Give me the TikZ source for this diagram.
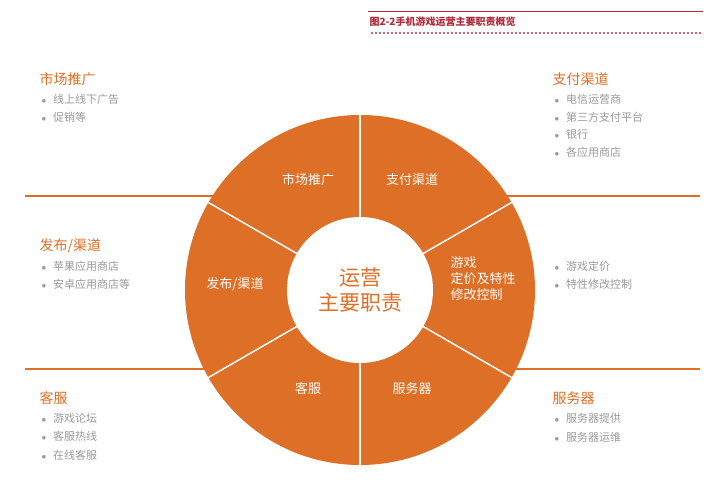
\documentclass[tikz,border=0pt]{standalone}
\usepackage{fontspec}
\newfontfamily\cjk{Noto Sans CJK SC}
\begin{document}
\begin{tikzpicture}[x=1pt,y=-1pt,
  orng/.style={fill=myor},
  sect/.style={text=white,font=\cjk\fontsize{13}{16}\selectfont,align=center},
  head/.style={text=myor,font=\cjk\fontsize{14}{16}\selectfont,anchor=west},
  item/.style={text=mygray,font=\cjk\fontsize{11}{13}\selectfont,anchor=west},
  sep/.style={draw=myor,line width=1.2pt}]
\definecolor{myor}{HTML}{DE6F27}
\definecolor{mygray}{HTML}{9A9A9A}
\definecolor{myred}{HTML}{B0283A}
\useasboundingbox (0,0) rectangle (713,485);
\coordinate (c) at (360,290);
% lines
\draw[sep] (25,196) -- (215,196);
\draw[sep] (25,369) -- (215,369);
\draw[sep] (505,196) -- (700,196);
\draw[sep] (505,369) -- (700,369);
\fill[myor] (c) circle (175);
\foreach \a in {30,90,150,210,270,330}
  \draw[white,line width=1.5pt] (c) -- ++(\a:175);
\fill[white] (c) circle (73);
\node[text=myor,font=\cjk\fontsize{21}{25}\selectfont,align=center] (ctr) at (c) {运营\\主要职责};
\node[sect] (s1) at (308,180) {市场推广};
\node[sect] (s2) at (412,180) {支付渠道};
\node[sect,align=left] (s3) at (483,279) {游戏\\定价及特性\\修改控制};
\node[sect] (s4) at (412,389) {服务器};
\node[sect] (s5) at (308,389) {客服};
\node[sect] (s6) at (235,284) {发布/渠道};
% header
\draw[myred,line width=0.8pt] (368,11) -- (703,11);
\node[text=myred,font=\cjk\bfseries\fontsize{10}{12}\selectfont,anchor=west] (title) at (366,22) {图2-2手机游戏运营主要职责概览};
\draw[myred!70,line width=1.5pt,dash pattern=on 1.5pt off 2.5pt] (371,33) -- (702,33);
% lists
\newcommand\bul{{\fontsize{9}{9}\selectfont$\bullet$}\hspace{7pt}}
\node[head] (h1) at (36,79) {市场推广};
\node[item] (i11) at (38,99) {\bul 线上线下广告};
\node[item] (i12) at (38,117) {\bul 促销等};
\node[head] (h2) at (549,79) {支付渠道};
\node[item] (i21) at (551,99) {\bul 电信运营商};
\node[item] (i22) at (551,117) {\bul 第三方支付平台};
\node[item] (i23) at (551,134) {\bul 银行};
\node[item] (i24) at (551,152) {\bul 各应用商店};
\node[head] (h3) at (36,246) {发布/渠道};
\node[item] (i31) at (38,266) {\bul 苹果应用商店};
\node[item] (i32) at (38,284) {\bul 安卓应用商店等};
\node[item] (i41) at (551,266) {\bul 游戏定价};
\node[item] (i42) at (551,284) {\bul 特性修改控制};
\node[head] (h5) at (36,398) {客服};
\node[item] (i51) at (38,418) {\bul 游戏论坛};
\node[item] (i52) at (38,436) {\bul 客服热线};
\node[item] (i53) at (38,455) {\bul 在线客服};
\node[head] (h6) at (549,398) {服务器};
\node[item] (i61) at (551,418) {\bul 服务器提供};
\node[item] (i62) at (551,437) {\bul 服务器运维};
\end{tikzpicture}
\end{document}
